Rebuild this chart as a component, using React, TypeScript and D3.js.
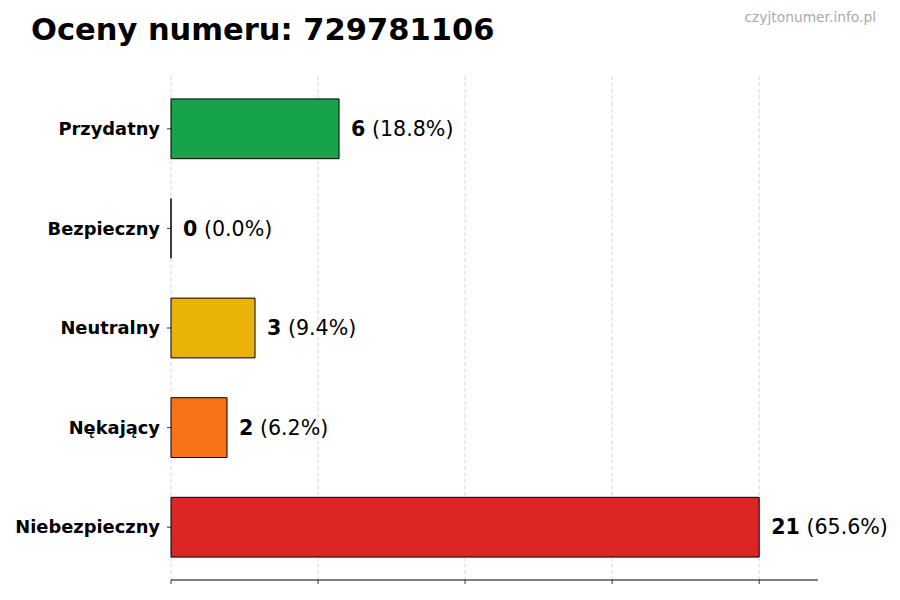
import * as React from 'react';
import * as d3 from 'd3';

const categories = ['Przydatny', 'Bezpieczny', 'Neutralny', 'Nękający', 'Niebezpieczny'];
const counts = [6, 0, 3, 2, 21];
const percents = ['18.8%', '0.0%', '9.4%', '6.2%', '65.6%'];
const colors = ['#16a34a', '#2563eb', '#eab308', '#f97316', '#dc2626'];
const gridTicks = [0, 5.25, 10.5, 15.75, 21];

const W = 900;
const H = 600;
const left = 171;
const right = 818;
const top = 76;
const bottom = 580;
const font = 'DejaVu Sans, sans-serif';

export default function App() {
  const x = d3.scaleLinear().domain([0, d3.max(counts)! * 1.1]).range([left, right]);
  const y = d3.scaleBand<string>().domain(categories).range([top, bottom]).paddingInner(0.4).paddingOuter(0.23);

  // bar outline as a path so a zero-width bar still shows its edge
  const barPath = (c: string, v: number) => {
    const p = d3.path();
    p.rect(x(0), y(c)!, x(v) - x(0), y.bandwidth());
    return p.toString();
  };

  return (
    <svg width={W} height={H} style={{ position: 'absolute', left: 0, top: 0, background: '#fff' }} fontFamily={font}>
      <text x={31} y={40} fontSize={30.5} fontWeight="bold">Oceny numeru: 729781106</text>
      <text x={876} y={22} fontSize={13.8} fill="#aaaaaa" textAnchor="end">czyjtonumer.info.pl</text>

      {gridTicks.map((t, i) => (
        <line key={i} x1={x(t)} x2={x(t)} y1={top} y2={bottom} stroke="#cccccc" strokeWidth={0.8} strokeDasharray="4,2.5" />
      ))}

      {categories.map((c, i) => (
        <g key={c}>
          <path d={barPath(c, counts[i])} fill={colors[i]} stroke="#000" strokeWidth={1} />
          <line x1={left - 4} x2={left} y1={y(c)! + y.bandwidth() / 2} y2={y(c)! + y.bandwidth() / 2} stroke="#000" strokeWidth={0.8} />
          <text x={left - 11} y={y(c)! + y.bandwidth() / 2} dy="0.35em" fontSize={17.85} fontWeight="bold" textAnchor="end">{c}</text>
          <text x={x(counts[i]) + 12} y={y(c)! + y.bandwidth() / 2} dy="0.35em" fontSize={20.6}>
            <tspan fontWeight="bold">{counts[i]}</tspan>
            <tspan> ({percents[i]})</tspan>
          </text>
        </g>
      ))}

      <line x1={left} x2={right} y1={bottom} y2={bottom} stroke="#000" strokeWidth={1} />
      {gridTicks.map((t, i) => (
        <line key={i} x1={x(t)} x2={x(t)} y1={bottom} y2={bottom + 4} stroke="#000" strokeWidth={0.8} />
      ))}
    </svg>
  );
}
